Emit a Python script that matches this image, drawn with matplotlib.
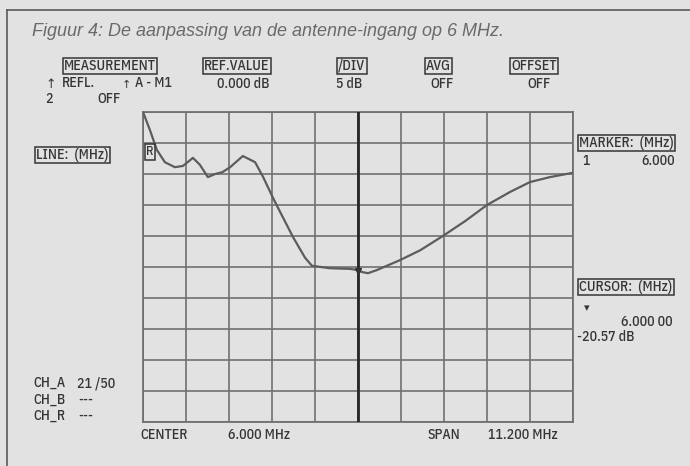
import matplotlib
matplotlib.use("Agg")
import matplotlib.pyplot as plt
import numpy as np

# ---- data ----
freq_mhz = [0.40, 0.58, 0.76, 0.97, 1.23, 1.44, 1.70, 1.88, 2.09, 2.28, 2.47, 2.67,
            3.00, 3.32, 3.53, 3.79, 3.97, 4.31, 4.62, 4.80, 5.27, 5.79, 6.00, 6.10,
            6.26, 6.49, 7.09, 7.62, 8.21, 8.79, 9.36, 9.96, 10.48, 11.00, 11.60]
refl_db = [5.0, 2.1, -1.1, -3.1, -3.9, -3.7, -2.4, -3.5, -5.5, -5.0, -4.7, -3.9,
           -2.1, -3.1, -5.5, -8.9, -11.1, -15.2, -18.5, -19.8, -20.2, -20.3, -20.5, -20.8,
           -21.0, -20.5, -18.9, -17.3, -15.0, -12.6, -10.0, -7.9, -6.3, -5.5, -4.8]
center_mhz = 6.0
span_mhz = 11.2
ref_db = 0.0
db_per_div = 5.0
marker_mhz = 6.0
marker_db = -20.57

W, H = 690, 466
bg = "#e2e2e2"
ink = "#353535"
gridc = "#707070"
inst_font = ["IBM Plex Sans Condensed", "Liberation Sans Narrow", "DejaVu Sans"]

fig = plt.figure(figsize=(W / 100, H / 100), dpi=100, facecolor=bg)

def px(x, y):
    return x / W, 1 - y / H

# outer frame lines
fig.add_artist(plt.Line2D([7 / W, 1], [1 - 10 / H, 1 - 10 / H], color="#5a5a5a", lw=1.2))
fig.add_artist(plt.Line2D([7 / W, 7 / W], [0, 1 - 10 / H], color="#5a5a5a", lw=1.2))

# caption
fig.text(*px(32, 31), "Figuur 4: De aanpassing van de antenne-ingang op 6 MHz.",
         fontsize=13, style="italic", color="#6a6a6a", family="Liberation Sans",
         va="center", ha="left")

# plot area
x0, x1 = center_mhz - span_mhz / 2, center_mhz + span_mhz / 2
ytop = ref_db + db_per_div
ybot = ref_db - 9 * db_per_div
ax = fig.add_axes([143 / W, 44 / H, 430 / W, 310 / H])
ax.set_facecolor(bg)
ax.set_xlim(x0, x1)
ax.set_ylim(ybot, ytop)
ax.set_xticks(np.linspace(x0, x1, 11))
ax.set_yticks(np.linspace(ybot, ytop, 11))
ax.tick_params(length=0, labelbottom=False, labelleft=False)
ax.grid(True, color=gridc, lw=1.2)
for s in ax.spines.values():
    s.set_color(gridc)
    s.set_linewidth(1.3)
ax.axvline(center_mhz, color="#262626", lw=2.0, zorder=3)
ax.plot(freq_mhz, refl_db, color="#5c5c5c", lw=1.6, zorder=4, clip_on=True)
ax.plot([marker_mhz], [marker_db], marker="v", color="#333333", ms=5, zorder=5)

def t(x, y, s, ha="left", size=10, box=False, **kw):
    kwargs = dict(fontsize=size, color=ink, family=inst_font, va="center", ha=ha,
                  fontweight="medium")
    if box:
        kwargs["bbox"] = dict(boxstyle="square,pad=0.1", fc="none", ec=ink, lw=1.1)
    kwargs.update(kw)
    fig.text(*px(x, y), s, **kwargs)

# header
t(64, 66, "MEASUREMENT", box=True)
t(45, 84, "↑", size=9, family="DejaVu Sans")
t(62, 83, "REFL.")
t(122, 85, "↑", size=8, family="DejaVu Sans")
t(135, 83, "A - M1")
t(45, 99, "2")
t(97, 99, "OFF")
t(204, 66, "REF.VALUE", box=True)
t(217, 84, "0.000 dB")
t(338, 66, "/DIV", box=True)
t(336, 84, "5 dB")
t(426, 66, "AVG", box=True)
t(430, 84, "OFF")
t(511, 66, "OFFSET", box=True)
t(527, 84, "OFF")

# left side
t(36, 155, "LINE:  (MHz)", box=True)
t(146, 152, "R", box=True, size=9)

# right side
t(579, 143, "MARKER:  (MHz)", box=True)
t(582, 161, "1")
t(675, 161, "6.000", ha="right")
t(579, 287, "CURSOR:  (MHz)", box=True)
t(584, 308, "▾", size=8, family="DejaVu Sans")
t(673, 322, "6.000 00", ha="right")
t(577, 337, "-20.57 dB")

# bottom-left channels
t(33, 383, "CH_A")
t(77, 383, "21 /50")
t(33, 400, "CH_B")
t(78, 400, "---")
t(33, 416, "CH_R")
t(78, 416, "---")

# bottom
t(140, 435, "CENTER")
t(228, 435, "6.000 MHz")
t(428, 435, "SPAN")
t(488, 435, "11.200 MHz")

fig.savefig("out.png", dpi=100, facecolor=bg)
